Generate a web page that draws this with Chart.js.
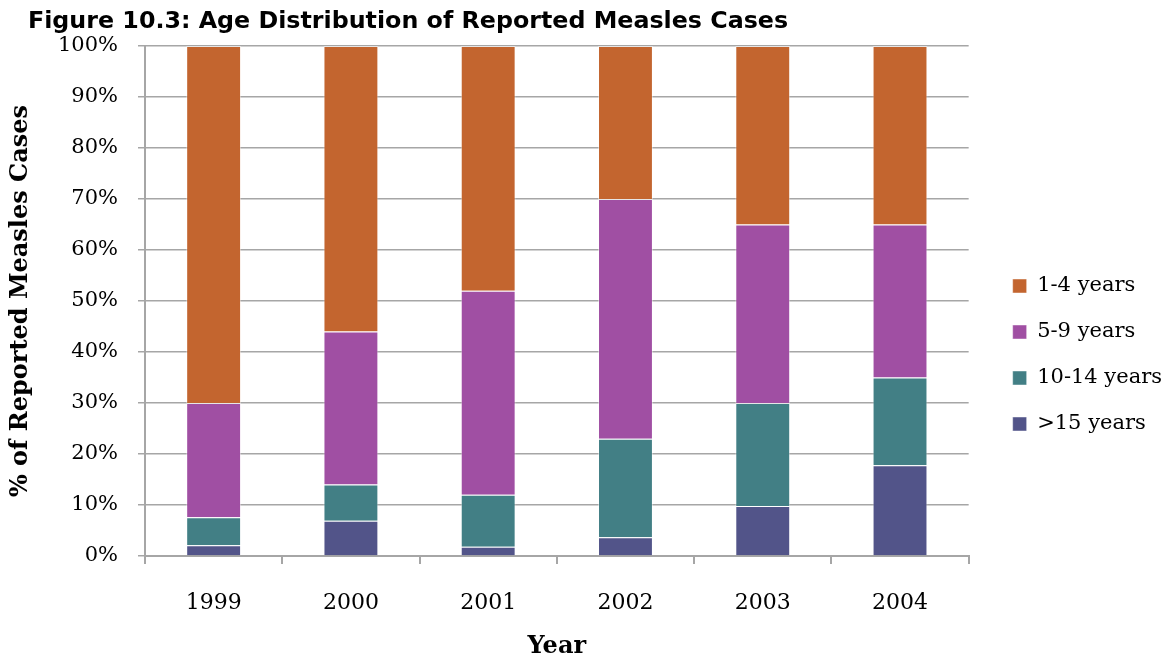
<!DOCTYPE html>
<html>
<head>
<meta charset="utf-8">
<script src="https://cdn.jsdelivr.net/npm/chart.js@4"></script>
<style>
  body { margin: 0; background: #fff; }
  #wrap { position: relative; width: 1171px; height: 661px; }
  #titulo {
    position: absolute; left: 28px; top: 6px;
    font: bold 23.75px "DejaVu Sans", sans-serif; color: #000;
  }
</style>
</head>
<body>
<div id="wrap">
  <div id="titulo">Figure 10.3: Age Distribution of Reported Measles Cases</div>
  <canvas id="sarampion" width="1171" height="661"></canvas>
</div>
<script>
const years = ["1999", "2000", "2001", "2002", "2003", "2004"];
const over15 = [2.1, 6.9, 1.8, 3.7, 9.8, 17.8];
const age10to14 = [5.5, 7.1, 10.2, 19.3, 20.2, 17.2];
const age5to9 = [22.4, 30, 40, 47, 35, 30];
const age1to4 = [70, 56, 48, 30, 35, 35];
const yTicks = [0, 10, 20, 30, 40, 50, 60, 70, 80, 90, 100];

const serif = "'DejaVu Serif', Georgia, serif";
const gris = "#a6a6a6";

function serie(label, data, color) {
    return {
        label,
        data,
        backgroundColor: color,
        borderColor: "rgba(255,255,255,0.45)",
        borderWidth: 1,
        barPercentage: 0.4,
        categoryPercentage: 1,
    };
}

// deja un hueco entre el grafico y la leyenda
const huecoLeyenda = {
    id: "huecoLeyenda",
    beforeLayout(chart) {
        const lg = chart.legend;
        if (!lg || lg._parcheado) return;
        const fit = lg.fit;
        lg.fit = function () {
            fit.call(this);
            this.width += 18;
        };
        lg._parcheado = true;
    },
    afterLayout(chart) {
        chart.legend.left += 19;
        chart.legend.top += 3;
    },
};

new Chart(document.getElementById("sarampion").getContext("2d"), {
    type: "bar",
    data: {
        labels: years,
        datasets: [
            serie(">15 years", over15, "#525489"),
            serie("10-14 years", age10to14, "#427f85"),
            serie("5-9 years", age5to9, "#a04fa3"),
            serie("1-4 years", age1to4, "#c3652f"),
        ],
    },
    plugins: [huecoLeyenda],
    options: {
        responsive: false,
        animation: false,
        layout: { padding: { top: 46, left: 6, right: 0, bottom: 0 } },
        plugins: {
            legend: {
                position: "right",
                reverse: true,
                labels: {
                    boxWidth: 14,
                    boxHeight: 14,
                    padding: 25,
                    color: "#000",
                    font: { family: serif, size: 21 },
                },
            },
            tooltip: { enabled: false },
        },
        scales: {
            x: {
                stacked: true,
                afterFit: (scale) => {
                    scale.height = 105;
                },
                grid: {
                    offset: true,
                    drawOnChartArea: false,
                    drawTicks: true,
                    tickLength: 8,
                    color: gris,
                    lineWidth: 2,
                },
                border: { color: gris, width: 2 },
                ticks: { color: "#000", padding: 26, font: { family: serif, size: 22 } },
                title: {
                    display: true,
                    text: "Year",
                    color: "#000",
                    padding: 0,
                    font: { family: serif, size: 24, weight: "bold" },
                },
            },
            y: {
                stacked: true,
                min: 0,
                max: 100,
                afterFit: (scale) => {
                    scale.width = 139;
                },
                afterBuildTicks: (axis) => {
                    axis.ticks = yTicks.map((v) => ({ value: v }));
                },
                grid: { color: gris, lineWidth: 1.5, tickLength: 7 },
                border: { color: gris, width: 2 },
                ticks: {
                    color: "#000",
                    padding: 20,
                    font: { family: serif, size: 21 },
                    callback: (v) => v + "%",
                },
                title: {
                    display: true,
                    text: "% of Reported Measles Cases",
                    color: "#000",
                    padding: 0,
                    font: { family: serif, size: 24, weight: "bold" },
                },
            },
        },
    },
});
</script>
</body>
</html>
